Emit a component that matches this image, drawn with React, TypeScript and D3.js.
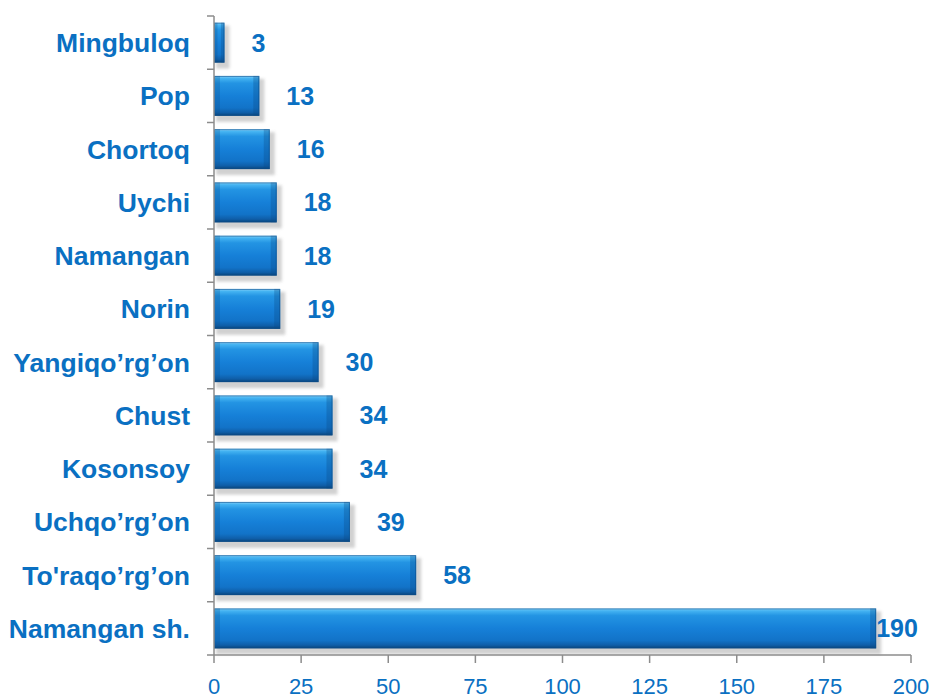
import React from "react";
import * as d3 from "d3";

const categories = [
  "Mingbuloq",
  "Pop",
  "Chortoq",
  "Uychi",
  "Namangan",
  "Norin",
  "Yangiqo\u2019rg\u2019on",
  "Chust",
  "Kosonsoy",
  "Uchqo\u2019rg\u2019on",
  "To'raqo\u2019rg\u2019on",
  "Namangan sh.",
];
const values = [3, 13, 16, 18, 18, 19, 30, 34, 34, 39, 58, 190];
const xTicks = [0, 25, 50, 75, 100, 125, 150, 175, 200];

const W = 934;
const H = 698;
const margin = { left: 214, right: 23, top: 16, bottom: 43 };
const BLUE = "#0a70c2";

export default function App() {
  const x = d3
    .scaleLinear()
    .domain([0, 200])
    .range([margin.left, W - margin.right]);
  const y = d3
    .scaleBand<string>()
    .domain(categories)
    .range([margin.top, H - margin.bottom])
    .paddingInner(0.25)
    .paddingOuter(0.125);
  const y0 = margin.top;
  const y1 = H - margin.bottom;
  const step = y.step();
  const boundaries = d3.range(categories.length + 1).map((i) => y0 + i * step);
  const labelMax = x(190);

  return (
    <svg
      width={W}
      height={H}
      style={{ position: "absolute", left: 0, top: 0, background: "#fff" }}
    >
      <defs>
        <linearGradient id="barV" x1="0" y1="0" x2="0" y2="1">
          <stop offset="0" stopColor="#8fd3f8" />
          <stop offset="0.06" stopColor="#45b4f2" />
          <stop offset="0.18" stopColor="#2394e3" />
          <stop offset="0.5" stopColor="#1680d8" />
          <stop offset="0.8" stopColor="#1273c8" />
          <stop offset="0.92" stopColor="#0f5ea8" />
          <stop offset="1" stopColor="#0a4478" />
        </linearGradient>
        <filter id="shadow" x="-10%" y="-30%" width="130%" height="170%">
          <feGaussianBlur stdDeviation="1.5" />
        </filter>
      </defs>

      {/* bars */}
      {categories.map((c, i) => {
        const by = y(c)!;
        const bh = y.bandwidth();
        const bx = x(0);
        const bw = x(values[i]) - x(0);
        const edge = Math.min(6, bw / 3);
        return (
          <g key={c}>
            <rect
              x={bx + 2}
              y={by + 3}
              width={bw + 3}
              height={bh + 3}
              fill="#9a9a9a"
              opacity={0.45}
              filter="url(#shadow)"
            />
            <rect x={bx} y={by} width={bw} height={bh} fill="url(#barV)" />
            <rect x={bx} y={by} width={edge} height={bh} fill="#0a4a85" opacity={0.25} />
            <rect
              x={bx + bw - edge}
              y={by}
              width={edge}
              height={bh}
              fill="#0a4a85"
              opacity={0.3}
            />
            <rect
              x={bx + 0.5}
              y={by + 0.5}
              width={Math.max(0, bw - 1)}
              height={bh - 1}
              fill="none"
              stroke="#0b4f8c"
              strokeOpacity={0.6}
              strokeWidth={1}
            />
          </g>
        );
      })}

      {/* axes */}
      <g stroke="#8c8c8c" strokeWidth={1.5} fill="none">
        <line x1={x(0)} x2={x(0)} y1={y0} y2={y1} />
        <line x1={x(0)} x2={x(200)} y1={y1} y2={y1} />
        {boundaries.map((b, i) => (
          <line key={"yt" + i} x1={x(0) - 7} x2={x(0)} y1={b} y2={b} />
        ))}
        {xTicks.map((t) => (
          <line key={"xt" + t} x1={x(t)} x2={x(t)} y1={y1} y2={y1 + 8} />
        ))}
      </g>

      {/* x tick labels */}
      {xTicks.map((t) => (
        <text
          key={"xl" + t}
          x={x(t)}
          y={694}
          textAnchor="middle"
          fill={BLUE}
          fontFamily="'Liberation Sans', Arial, sans-serif"
          fontSize={22}
        >
          {t}
        </text>
      ))}

      {/* category labels */}
      {categories.map((c) => (
        <text
          key={"cl" + c}
          x={x(0) - 24}
          y={y(c)! + y.bandwidth() / 2}
          dy="0.36em"
          textAnchor="end"
          fill={BLUE}
          fontFamily="'Liberation Sans', Arial, sans-serif"
          fontWeight="bold"
          fontSize={26.5}
        >
          {c}
        </text>
      ))}

      {/* value labels */}
      {categories.map((c, i) => (
        <text
          key={"vl" + c}
          x={Math.min(x(values[i]) + 27, labelMax)}
          y={y(c)! + y.bandwidth() / 2}
          dy="0.36em"
          textAnchor="start"
          fill={BLUE}
          fontFamily="'Liberation Sans', Arial, sans-serif"
          fontWeight="bold"
          fontSize={25}
        >
          {values[i]}
        </text>
      ))}
    </svg>
  );
}
